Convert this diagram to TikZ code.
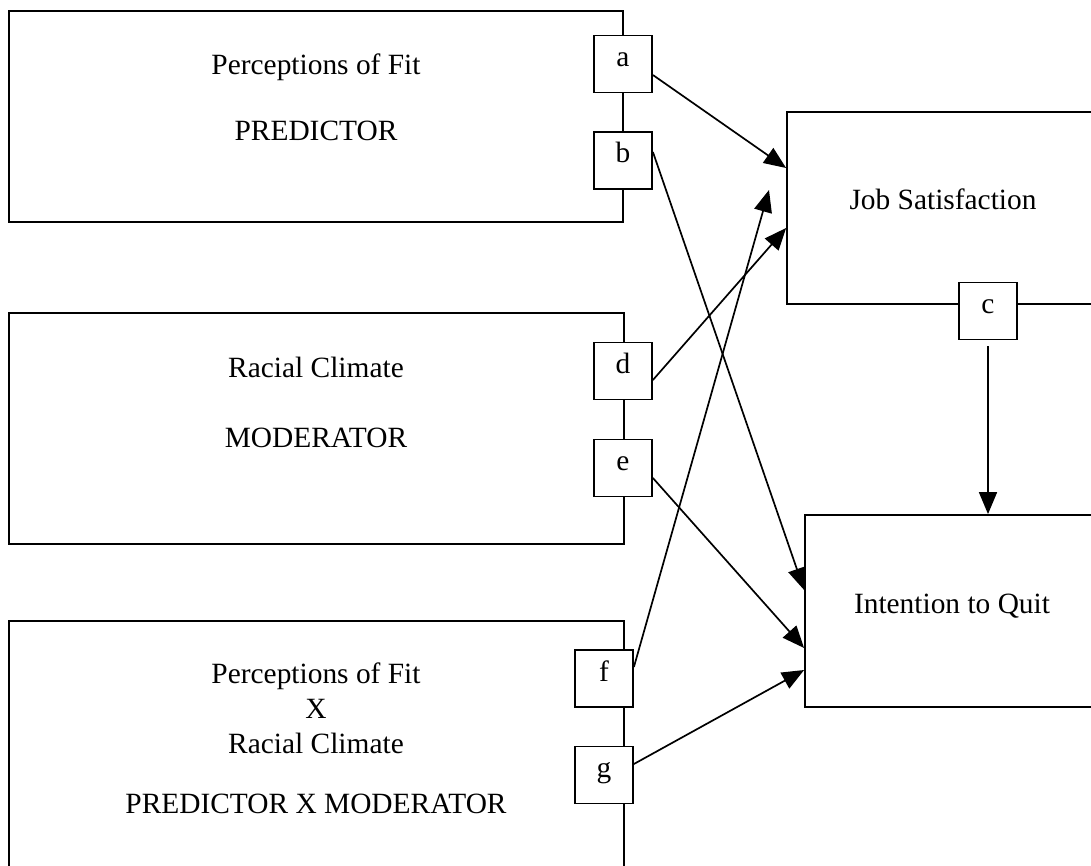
\documentclass[tikz,border=0pt]{standalone}
\usepackage{fontspec}
\setmainfont{Liberation Serif}
\usetikzlibrary{arrows.meta,calc}
\begin{document}
\begin{tikzpicture}[x=1pt,y=-1pt,
  bigbox/.style={draw,line width=1.8pt,inner sep=0pt},
  sbox/.style={draw,fill=white,line width=1.8pt,minimum width=58pt,minimum height=57pt,inner sep=0pt,text height=8pt,text depth=3pt},
  txt/.style={anchor=base,inner sep=0pt},
  conn/.style={line width=1.7pt,-{Triangle[length=22pt,width=18pt]}},
  font=\fontsize{29.4}{35}\selectfont]
\clip (0,0) rectangle (1091,866);
\fill[white] (0,0) rectangle (1091,866);
% big boxes
\node[bigbox,minimum width=614pt,minimum height=211pt] (pf) at (316,116.5) {};
\node[bigbox,minimum width=615pt,minimum height=231pt] (rc) at (316.5,428.5) {};
\node[bigbox,minimum width=615pt,minimum height=279pt] (px) at (316.5,760.5) {};
\node[bigbox,minimum width=312pt,minimum height=192pt] (js) at (943,208) {};
\node[bigbox,minimum width=294pt,minimum height=192pt] (iq) at (952,611) {};
% texts
\node[txt] (pft1) at (316,75) {Perceptions of Fit};
\node[txt] (pft2) at (316,141) {PREDICTOR};
\node[txt] (rct1) at (316,377) {Racial Climate};
\node[txt] (rct2) at (316,447) {MODERATOR};
\node[txt] (pxt1) at (316,683) {Perceptions of Fit};
\node[txt] (pxt2) at (316,718) {X};
\node[txt] (pxt3) at (316,753) {Racial Climate};
\node[txt] (pxt4) at (316,813) {PREDICTOR X MODERATOR};
\node[txt] (jst) at (943,210) {Job Satisfaction};
\node[txt] (iqt) at (952,613) {Intention to Quit};
% small boxes
\node[sbox] (a) at (623,64) {a};
\node[sbox] (b) at (623,160.5) {b};
\node[sbox] (d) at (623,371) {d};
\node[sbox] (e) at (623,468) {e};
\node[sbox] (f) at (604,678.5) {f};
\node[sbox] (g) at (604,775) {g};
\node[sbox] (c) at (988,311) {c};
\coordinate (ftip) at (769,190);
% connectors
\draw[conn] ([yshift=-11pt]a.east) -- ([yshift=40pt]js.west);
\draw[conn] ([yshift=8.5pt]b.east) -- ([yshift=21pt]iq.west);
\draw[conn] ([yshift=-9pt]d.east) -- ([yshift=-20pt]js.west);
\draw[conn] ([yshift=-10pt]e.east) -- ([yshift=-37pt]iq.west);
\draw[conn] ([yshift=11.5pt]f.east) -- (ftip);
\draw[conn] ([yshift=11pt]g.east) -- ([yshift=-59pt]iq.west);
\draw[conn,shorten <=6pt] (c.south) -- (c.south |- iq.north);
\end{tikzpicture}
\end{document}
